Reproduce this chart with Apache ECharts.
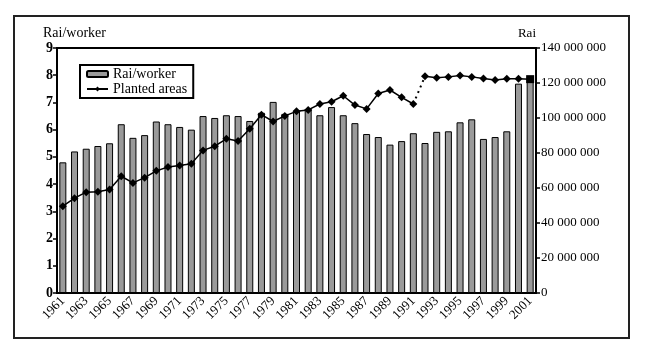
<!DOCTYPE html>
<html>
<head>
<meta charset="utf-8">
<script src="https://cdn.jsdelivr.net/npm/echarts@6/dist/echarts.min.js"></script>
<style>
html, body { margin: 0; padding: 0; background: #fff; }
#chart { width: 650px; height: 354px; }
</style>
</head>
<body>
<div id="chart"></div>
<script>
// years 1961 - 2001
var years = []
for (var y = 1961; y <= 2001; y++) years.push(String(y))

// Rai per worker (left axis)
var raiPerWorker = [
  4.8, 5.2, 5.3, 5.4, 5.5, 6.2, 5.7, 5.8, 6.3, 6.2,
  6.1, 6.0, 6.5, 6.43, 6.53, 6.5, 6.32, 6.62, 7.02, 6.58,
  6.7, 6.76, 6.53, 6.83, 6.53, 6.24, 5.84, 5.73, 5.45, 5.58,
  5.87, 5.51, 5.92, 5.94, 6.27, 6.38, 5.66, 5.73, 5.94, 7.69,
  7.97
]

// planted areas in rai (right axis)
var plantedAreas = [
  49600000, 54200000, 57600000, 57800000, 59100000, 66700000, 62900000, 65900000, 69800000, 72000000,
  72900000, 73900000, 81500000, 83900000, 88100000, 86800000, 93800000, 101900000, 98000000, 101200000,
  103800000, 104600000, 108000000, 109300000, 112700000, 107400000, 105200000, 114000000, 116000000, 111800000,
  108000000, 123900000, 123000000, 123500000, 124300000, 123500000, 122600000, 121700000, 122400000, 122400000,
  122200000
]

var rightTicks = { min: 0, max: 140000000, interval: 20000000 }
var leftTicks = { min: 0, max: 9, interval: 1 }

var breakIdx = 30 // 1991 -> 1992 drawn dotted

var early = plantedAreas.map(function (v, i) { return i <= breakIdx ? v : null })
var late = plantedAreas.map(function (v, i) { return i > breakIdx ? v : null })
var gap = plantedAreas.map(function (v, i) { return (i === breakIdx || i === breakIdx + 1) ? v : null })

var serif = 'Liberation Serif'

var chart = echarts.init(document.getElementById('chart'))
chart.setOption({
  animation: false,
  backgroundColor: '#fff',
  textStyle: { fontFamily: serif, color: '#000' },
  graphic: [{
    type: 'rect',
    shape: { x: 14, y: 16, width: 615, height: 322 },
    style: { fill: 'none', stroke: '#222', lineWidth: 2 }
  }],
  grid: {
    left: 57, right: 114, top: 48, bottom: 61,
    show: true, borderColor: '#000', borderWidth: 2
  },
  legend: {
    orient: 'vertical',
    left: 80, top: 65,
    data: ['Rai/worker', 'Planted areas'],
    itemWidth: 21, itemHeight: 6, itemGap: 1,
    padding: [2, 6, 2, 6],
    borderColor: '#000', borderWidth: 2,
    textStyle: { fontFamily: serif, fontSize: 14, color: '#000' }
  },
  xAxis: {
    type: 'category',
    data: years,
    axisLine: { lineStyle: { color: '#000', width: 2 } },
    axisTick: { interval: 0, length: 4, lineStyle: { color: '#000', width: 1.5 } },
    axisLabel: { interval: 1, rotate: 45, fontFamily: serif, fontSize: 13, color: '#000', margin: 6 }
  },
  yAxis: [{
    type: 'value',
    min: leftTicks.min, max: leftTicks.max, interval: leftTicks.interval,
    name: 'Rai/worker',
    nameGap: 8,
    nameTextStyle: { fontFamily: serif, fontSize: 14, color: '#000', align: 'left', padding: [0, 0, 0, -14] },
    axisLine: { show: true, lineStyle: { color: '#000', width: 2 } },
    axisTick: { show: true, length: 4, lineStyle: { color: '#000', width: 1.5 } },
    axisLabel: { fontFamily: serif, fontSize: 14, fontWeight: 'bold', color: '#000', margin: 4 },
    splitLine: { show: false }
  }, {
    type: 'value',
    min: rightTicks.min, max: rightTicks.max, interval: rightTicks.interval,
    name: 'Rai',
    nameGap: 8,
    nameTextStyle: { fontFamily: serif, fontSize: 13, color: '#000', align: 'right' },
    axisLine: { show: true, lineStyle: { color: '#000', width: 2 } },
    axisTick: { show: true, length: 4, lineStyle: { color: '#000', width: 1.5 } },
    axisLabel: {
      fontFamily: serif, fontSize: 13, color: '#000', margin: 5,
      formatter: function (v) { return String(v).replace(/\B(?=(\d{3})+(?!\d))/g, ' ') }
    },
    splitLine: { show: false }
  }],
  series: [{
    name: 'Rai/worker',
    type: 'bar',
    data: raiPerWorker,
    barWidth: 7,
    itemStyle: { color: '#9a9a9a', borderColor: '#000', borderWidth: 1 }
  }, {
    name: 'Planted areas',
    type: 'line',
    yAxisIndex: 1,
    data: early,
    showAllSymbol: true,
    symbol: 'diamond',
    symbolSize: 8,
    lineStyle: { color: '#000', width: 1.5 },
    itemStyle: { color: '#000' }
  }, {
    name: 'Planted areas',
    type: 'line',
    yAxisIndex: 1,
    data: late,
    showAllSymbol: true,
    symbol: function (v, p) { return p.dataIndex === years.length - 1 ? 'rect' : 'diamond' },
    symbolSize: 8,
    lineStyle: { color: '#000', width: 1.5 },
    itemStyle: { color: '#000' }
  }, {
    name: 'gap',
    type: 'line',
    yAxisIndex: 1,
    data: gap,
    symbol: 'none',
    lineStyle: { color: '#000', width: 2, type: [2, 4] }
  }]
})
</script>
</body>
</html>
